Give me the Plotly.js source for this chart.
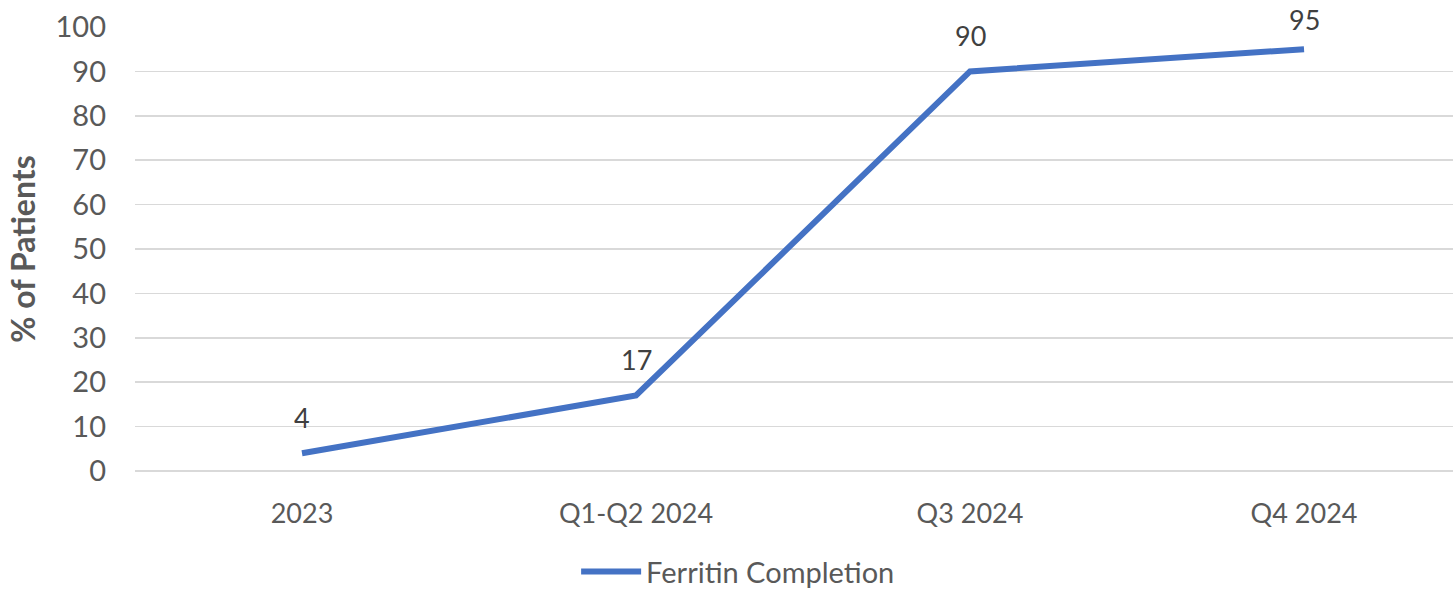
<!DOCTYPE html>
<html>
<head>
<meta charset="utf-8">
<script src="https://cdn.plot.ly/plotly-3.0.1.min.js"></script>
<style>
  html, body { margin: 0; padding: 0; background: #ffffff; }
  #chart { width: 1453px; height: 591px; }
</style>
</head>
<body>
<div id="chart"></div>
<script>
// Ferritin completion rate by period
const periods = ["2023", "Q1-Q2 2024", "Q3 2024", "Q4 2024"];
const completion = [4, 17, 90, 95];
const seriesName = "Ferritin Completion";
const yTicks = [0, 10, 20, 30, 40, 50, 60, 70, 80, 90, 100];

const FONT = "Lato, 'Liberation Sans', sans-serif";
const MARGIN = { l: 135, r: 0, t: 27, b: 120 };
const HEIGHT = 591;
const Y_RANGE = [0, 100];

const trace = {
  x: periods,
  y: completion,
  type: "scatter",
  mode: "lines",
  name: seriesName,
  line: { color: "#4472C4", width: 6 },
  cliponaxis: false,
  hoverinfo: "skip"
};

// value labels centred above each point, pulled down when near the top edge
const plotH = HEIGHT - MARGIN.t - MARGIN.b;
const annotations = completion.map((v, i) => {
  const py = MARGIN.t + (Y_RANGE[1] - v) / (Y_RANGE[1] - Y_RANGE[0]) * plotH;
  return {
    x: i,
    y: v,
    xref: "x",
    yref: "y",
    text: String(v),
    showarrow: false,
    yanchor: "middle",
    yshift: Math.min(36, py - 19),
    font: { family: FONT, size: 27, color: "#404040" }
  };
});

const layout = {
  width: 1453,
  height: HEIGHT,
  margin: MARGIN,
  paper_bgcolor: "#ffffff",
  plot_bgcolor: "#ffffff",
  showlegend: true,
  legend: {
    orientation: "h",
    x: 0.508,
    xanchor: "center",
    xref: "container",
    y: 0.076,
    yref: "container",
    yanchor: "top",
    font: { family: FONT, size: 29, color: "#595959" },
    itemwidth: 60
  },
  xaxis: {
    type: "category",
    range: [-0.5, 3.446],
    showgrid: false,
    showline: false,
    zeroline: false,
    ticks: "",
    ticklabelstandoff: 24,
    tickfont: { family: FONT, size: 27, color: "#595959" },
    fixedrange: true
  },
  yaxis: {
    range: Y_RANGE,
    tickvals: yTicks,
    ticktext: yTicks.map(String),
    showgrid: true,
    gridcolor: "#d9d9d9",
    gridwidth: 1.5,
    zeroline: true,
    zerolinecolor: "#d9d9d9",
    zerolinewidth: 1.5,
    showline: false,
    ticks: "",
    ticklabelstandoff: 28,
    tickfont: { family: FONT, size: 29, color: "#595959" },
    title: {
      text: "<b>% of Patients</b>",
      font: { family: FONT, size: 32, color: "#595959" },
      standoff: 10
    },
    fixedrange: true
  },
  annotations: annotations
};

Plotly.newPlot("chart", [trace], layout, { displayModeBar: false, staticPlot: true });
</script>
</body>
</html>
